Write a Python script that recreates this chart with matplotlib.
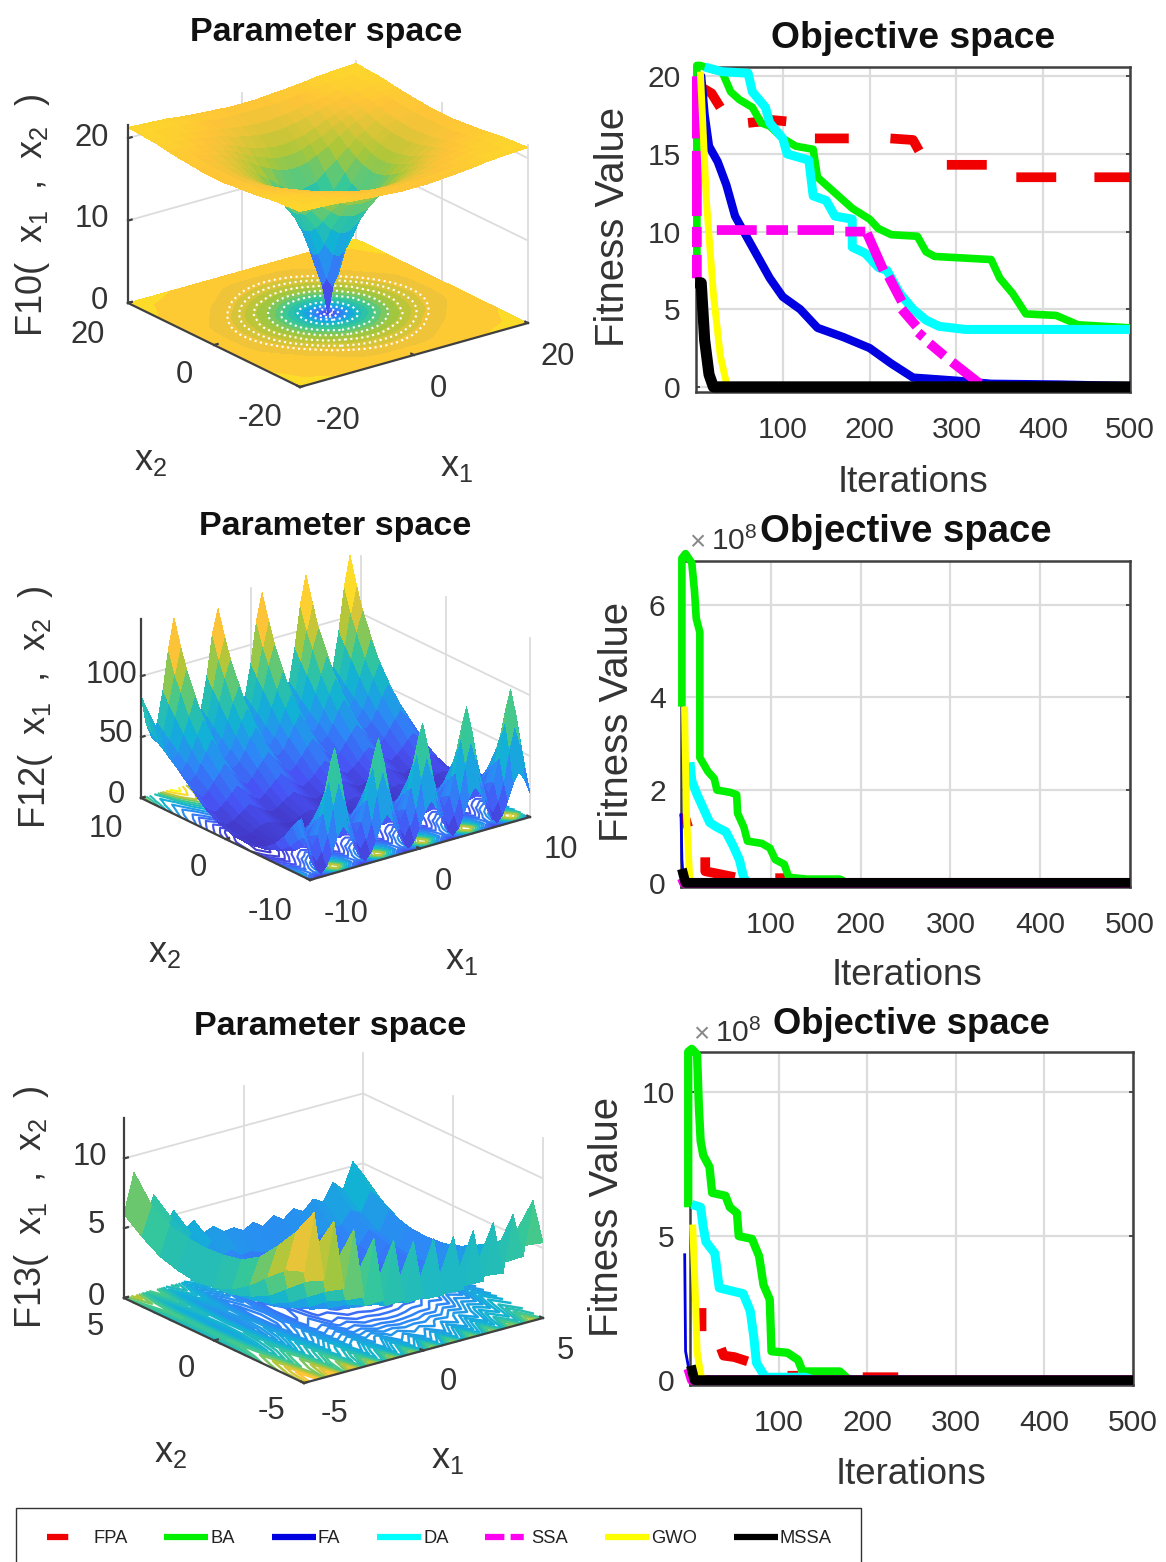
import numpy as np
import matplotlib
matplotlib.use("Agg")
import matplotlib.pyplot as plt
from matplotlib.colors import LinearSegmentedColormap
from matplotlib.lines import Line2D
from matplotlib.patches import Rectangle
from mpl_toolkits.mplot3d import proj3d

W, H = 1166, 1562
plt.rcParams['font.family'] = ['Liberation Sans', 'DejaVu Sans']
plt.rcParams['mathtext.fontset'] = 'custom'
plt.rcParams['mathtext.rm'] = 'Liberation Sans'
plt.rcParams['mathtext.it'] = 'Liberation Sans'
plt.rcParams['mathtext.bf'] = 'Liberation Sans:bold'
plt.rcParams['mathtext.default'] = 'regular'

# ---------- values ----------
LEGEND_NAMES = ['FPA', 'BA', 'FA', 'DA', 'SSA', 'GWO', 'MSSA']
ITER_TICKS = [100, 200, 300, 400, 500]

# F10 surface: one quadrant of the (symmetric) surface
F10_NODES = [0, 1, 2.5, 4, 6, 8, 9.5, 11, 13, 15, 17.5, 20]
F10_QUADRANT = [
    [0, 3.6, 7.6, 10.8, 13.4, 15.4, 16.6, 17.5, 18.6, 19.3, 20.1, 20.3],
    [3.6, 4.7, 8, 11, 13.5, 15.5, 16.6, 17.5, 18.6, 19.3, 20.1, 20.3],
    [7.6, 8, 9.6, 11.8, 13.8, 15.7, 16.8, 17.7, 18.7, 19.4, 20.1, 20.3],
    [10.8, 11, 11.8, 13, 14.7, 16.2, 17.2, 17.9, 18.9, 19.5, 20.1, 20.4],
    [13.4, 13.5, 13.8, 14.7, 15.8, 16.9, 17.7, 18.4, 19.2, 19.7, 20.2, 20.5],
    [15.4, 15.5, 15.7, 16.2, 16.9, 17.8, 18.4, 19, 19.6, 20, 20.4, 20.6],
    [16.6, 16.6, 16.8, 17.2, 17.7, 18.4, 19, 19.4, 19.9, 20.2, 20.5, 20.7],
    [17.5, 17.5, 17.7, 17.9, 18.4, 19, 19.4, 19.7, 20.1, 20.3, 20.6, 20.8],
    [18.6, 18.6, 18.7, 18.9, 19.2, 19.6, 19.9, 20.1, 20.4, 20.6, 20.8, 21],
    [19.3, 19.3, 19.4, 19.5, 19.7, 20, 20.2, 20.3, 20.6, 20.7, 20.9, 21.1],
    [20.1, 20.1, 20.1, 20.1, 20.2, 20.4, 20.5, 20.6, 20.8, 20.9, 21, 21.2],
    [20.3, 20.3, 20.3, 20.4, 20.5, 20.6, 20.7, 20.8, 21, 21.1, 21.2, 21.3],
]

# F12 surface: for each x2 row, the heights read at ridge top, two shoulders, flank and valley;
# each x1 column says which of those five readings it sits on and a small left-to-right gain.
F12_X2 = [-10, -9.5, -9, -8.5, -8, -7, -6, -5, -4, -3, -1, 1, 2.5, 4, 5.5, 6.5, 7.5, 8.5, 9.25, 10]
F12_PROFILE = [
    [37, 30, 18, 8, 3], [72, 55, 32, 18, 10], [97, 75, 48, 30, 22], [82, 62, 43, 29, 21], [60, 50, 38, 26, 20],
    [38, 32, 26, 17, 12], [24, 20, 17, 11, 8], [16, 14, 11, 7, 5], [10, 9, 7, 4, 3], [7, 6, 5, 3, 2],
    [9, 8, 6, 4, 3], [17, 14, 11, 8, 6], [27, 23, 18, 14, 11], [40, 34, 28, 22, 18], [55, 47, 38, 30, 26],
    [68, 58, 47, 37, 31], [83, 70, 57, 43, 36], [102, 87, 68, 50, 42], [120, 100, 76, 55, 46], [140, 118, 85, 60, 48],
]
F12_X1 = [-10, -9.5, -9, -8.5, -8, -7.5, -7, -6.5, -6, -5.5, -5, -4.5, -4, -3.5, -3, -2.5, -2, -1.5, -1, -0.5, 0,
          0.5, 1, 1.5, 2, 2.5, 3, 3.5, 4, 4.5, 5, 5.5, 6, 6.5, 7, 7.5, 8, 8.5, 9, 9.5, 10]
F12_SLOT = [2, 3, 4, 3, 2, 1, 0, 1, 2, 3, 4, 3, 2, 1, 0, 1, 2, 3, 4, 3, 2,
            1, 0, 1, 2, 3, 4, 3, 2, 1, 0, 1, 2, 3, 4, 3, 2, 1, 0, 1, 2]
F12_GAIN = [.98, .98, .98, .98, .98, .98, 1, 1, 1, 1, 1, 1, 1, 1, .98, .98, 1, 1, 1, 1, 1,
            1, 1, 1, 1, 1.02, 1.02, 1.02, 1.03, 1.03, 1.03, 1.04, 1.05, 1.05, 1.05, 1.06, 1.07, 1.07, 1.07, 1.08, 1.1]

# F13 surface: rows follow F13_X2, columns follow F13_X1
F13_X1 = [-5, -4.58, -4.17, -3.75, -3.33, -2.92, -2.5, -2.08, -1.67, -1.25, -0.83, -0.42, 0,
          0.42, 0.83, 1.25, 1.67, 2.08, 2.5, 2.92, 3.33, 3.75, 4.17, 4.58, 5]
F13_X2 = [-5, -4, -3, -2, -1, 0, 1, 2, 3, 4, 5]
F13_Z = [
    [8, 12, 7, 11, 6, 10, 5, 9, 4.4, 8.5, 4, 8, 3.8, 7.8, 3.6, 7.6, 3.6, 7.6, 3.8, 7.8, 4, 8, 4.8, 8.6, 5.4],
    [7.5, 10, 6.3, 8.5, 5.2, 7, 4.2, 5.6, 3.4, 4.6, 3, 4, 2.8, 3.4, 2.7, 3.3, 2.7, 3.5, 2.9, 3.9, 3.2, 4.6, 3.8, 5.6, 4.6],
    [6.4, 8.4, 5.2, 6.8, 4.2, 5.4, 3.5, 4.2, 2.9, 3.3, 2.5, 2.8, 2.3, 2.4, 2.2, 2.3, 2.2, 2.5, 2.4, 2.9, 2.7, 3.5, 3.2, 4.4, 3.8],
    [5.2, 7, 4.1, 5.5, 3.2, 4.2, 2.5, 3.1, 2, 2.3, 1.6, 1.7, 1.4, 1.4, 1.3, 1.3, 1.4, 1.5, 1.5, 1.9, 1.8, 2.6, 2.4, 3.6, 2.9],
    [4.3, 6.2, 3.4, 4.9, 2.5, 3.4, 1.8, 2.4, 1.3, 1.5, .9, 1, .7, .7, .6, .6, .6, .8, .8, 1.2, 1.1, 1.9, 1.6, 2.9, 2.2],
    [3.8, 5.9, 2.9, 4.5, 2.1, 3, 1.3, 1.9, .8, 1.1, .5, .5, .2, .2, .1, .1, .2, .3, .4, .8, .7, 1.6, 1.2, 2.5, 1.8],
    [3.6, 5.8, 2.7, 4.4, 1.9, 2.9, 1.2, 1.8, .7, .9, .3, .4, .1, .1, 0, 0, 0, .2, .2, .7, .5, 1.4, 1, 2.4, 1.6],
    [3.8, 5.9, 2.9, 4.5, 2.1, 3, 1.4, 2, .9, 1.1, .5, .5, .3, .2, .2, .2, .2, .4, .4, .8, .7, 1.6, 1.2, 2.5, 1.8],
    [4.2, 6.2, 3.3, 4.9, 2.5, 3.5, 1.8, 2.4, 1.3, 1.5, .9, 1, .7, .7, .6, .6, .7, .8, .8, 1.3, 1.1, 2, 1.6, 3, 2.2],
    [5, 7, 4, 5.7, 3.2, 4.2, 2.6, 3.2, 2, 2.3, 1.7, 1.8, 1.5, 1.5, 1.4, 1.4, 1.4, 1.6, 1.6, 2, 1.9, 2.8, 2.4, 3.8, 3],
    [6, 8.8, 5.1, 6.8, 4.3, 5.3, 3.6, 4.2, 3.1, 3.4, 2.8, 2.9, 2.5, 2.9, 2.4, 3, 2.5, 3.1, 2.7, 3.4, 3, 4.2, 3.5, 5.3, 4.2],
]

# Convergence curves, F10 (FPA and SSA: the visible dashes, with gaps as NaN)
nan = np.nan
F10_FPA_X = [9, 18, 28, nan, 60, 77, nan, 85, 104, nan, 137, 176, nan, 224, 250, 257, nan, 289, 335, nan, 369, 415, nan, 459, 500]
F10_FPA_Y = [19.2, 18.9, 18, nan, 17, 17.1, nan, 17.2, 17.1, nan, 16, 16, nan, 16, 15.9, 15.2, nan, 14.3, 14.3, nan, 13.5, 13.5, nan, 13.5, 13.5]
F10_BA_X = [1, 1, 5, 15, 30, 40, 50, 65, 75, 85, 100, 115, 135, 140, 160, 180, 200, 210, 225, 255, 265, 275, 340, 350, 365, 380, 415, 440, 500]
F10_BA_Y = [7, 20.7, 20.7, 20.5, 20.3, 19, 18.5, 18, 17, 16.8, 16, 15.5, 15.3, 13.5, 12.5, 11.5, 10.8, 10.2, 9.8, 9.7, 8.7, 8.4, 8.2, 7, 6, 4.7, 4.6, 4, 3.8]
F10_FA_X = [1, 6, 10, 15, 25, 35, 45, 55, 65, 75, 85, 100, 120, 140, 170, 200, 225, 250, 300, 340, 420, 500]
F10_FA_Y = [20, 20, 17.5, 15.5, 14.5, 13, 11, 10, 9, 8, 7, 5.8, 5, 3.8, 3.2, 2.5, 1.5, .6, .4, .2, .15, .05]
F10_DA_X = [10, 30, 60, 65, 80, 85, 100, 105, 130, 135, 150, 160, 180, 180, 195, 210, 220, 235, 250, 265, 280, 310, 500]
F10_DA_Y = [20.6, 20.3, 20.2, 19, 18, 17, 16, 15, 14.6, 12.3, 12, 11, 10.8, 9, 8.6, 7.7, 7.5, 6, 5, 4.3, 3.9, 3.7, 3.7]
F10_SSA_X = [1, 1, nan, 1, 1, nan, 1, 1, nan, 1, 1, nan, 24, 70, nan, 81, 106, nan, 117, 159, nan, 172, 195, nan,
             197, 216, nan, 222, 237, nan, 237, 254, nan, 256, 262, nan, 269, 286, nan, 295, 327]
F10_SSA_Y = [20, 16, nan, 15.2, 11, nan, 10.3, 9, nan, 8.5, 7, nan, 10.1, 10.1, nan, 10.1, 10.1, nan, 10.1, 10.1, nan, 10, 10, nan,
             9.9, 7.5, nan, 7.1, 5.5, nan, 5, 3.9, nan, 3.5, 3.2, nan, 2.8, 2, nan, 1.6, .2]
F10_GWO_X = [5, 12, 20, 28, 36]
F10_GWO_Y = [20.3, 12, 6, 2, 0]
F10_MSSA_X = [-1, 6, 10, 15, 20, 500]
F10_MSSA_Y = [6.7, 6.7, 3, .8, 0, 0]

# Convergence curves, F12 (units of 1e8)
F12_FPA_X = [3, 8, nan, 27, 27, 40, 60, nan, 105, 118]
F12_FPA_Y = [1.5, 1.2, nan, .55, .25, .2, .12, nan, .1, .1]
F12_BA_X = [1, 1, 5, 12, 15, 17, 21, 21, 30, 37, 40, 55, 62, 63, 70, 74, 90, 99, 105, 115, 120, 140, 177, 185]
F12_BA_Y = [3.8, 7, 7.1, 6.9, 6.3, 5.7, 5.4, 2.7, 2.4, 2.25, 2, 1.95, 1.9, 1.5, 1.2, .9, .85, .75, .5, .4, .12, .08, .08, 0]
F12_FA_X = [0, 1, 3]
F12_FA_Y = [1.5, .5, 0]
F12_DA_X = [10, 12, 18, 25, 32, 40, 50, 58, 65, 70, 75]
F12_DA_Y = [2.6, 2.2, 1.9, 1.6, 1.3, 1.2, 1.1, .8, .5, .1, 0]
F12_SSA_X = [1, 3, 500]
F12_SSA_Y = [.1, 0, 0]
F12_GWO_X = [4, 6, 10]
F12_GWO_Y = [3.8, 1.5, 0]
F12_MSSA_X = [1, 5, 500]
F12_MSSA_Y = [.3, 0, 0]

# Convergence curves, F13 (units of 1e8)
F13_FPA_X = [13, 13, nan, 35, 38, 50, 65, nan, 110, 122, nan, 195, 235]
F13_FPA_Y = [2.5, 1.7, nan, 1.1, .85, .8, .65, nan, .15, .15, nan, .1, .1]
F13_BA_X = [-2, -2, 2, 8, 10, 12, 15, 22, 25, 40, 45, 53, 55, 70, 78, 83, 90, 92, 110, 122, 127, 169, 178]
F13_BA_Y = [6, 11.4, 11.5, 11.3, 9.5, 8.3, 7.8, 7.4, 6.5, 6.4, 6, 5.8, 5, 4.9, 4.3, 3.3, 2.8, 1, .95, .7, .3, .3, .05]
F13_FA_X = [-6, -5, 1, nan, 20, 25]
F13_FA_Y = [4.4, 1, 0, nan, .15, 0]
F13_DA_X = [2, 12, 15, 18, 28, 33, 60, 68, 72, 75, 85, 130, 140]
F13_DA_Y = [6.1, 6, 5.3, 4.8, 4.4, 3.2, 3, 2.4, 1.5, .6, .1, .1, 0]
F13_SSA_X = [-2, 2, 500]
F13_SSA_Y = [.4, 0, 0]
F13_GWO_X = [3, 6, 8, 12, 15]
F13_GWO_Y = [5.4, 3, 1, .2, 0]
F13_MSSA_X = [1, 5, 500]
F13_MSSA_Y = [.5, 0, 0]

# ---------- styles and layout ----------
PARULA = LinearSegmentedColormap.from_list('parula', [
    (0.2422, 0.1504, 0.6603), (0.2810, 0.3228, 0.9579), (0.1786, 0.5289, 0.9682),
    (0.0689, 0.6948, 0.8394), (0.2161, 0.7843, 0.5923), (0.6720, 0.7793, 0.2227),
    (0.9970, 0.7659, 0.2199), (0.9769, 0.9839, 0.0805)])
TXT = '#333333'
GRID = '#dcdcdc'
STYLES = {
    'FPA': dict(color='#f00000', lw=7, ls='-'),
    'BA': dict(color='#00f000', lw=5.5, ls='-'),
    'FA': dict(color='#0000e0', lw=6, ls='-'),
    'DA': dict(color='#00ffff', lw=6.5, ls='-'),
    'SSA': dict(color='#ff00f0', lw=7, ls='-'),
    'GWO': dict(color='#ffff00', lw=5, ls='-'),
    'MSSA': dict(color='#000000', lw=7, ls='-'),
}

fig = plt.figure(figsize=(W / 100, H / 100), dpi=100, facecolor='white')
fx = lambda p: p / W
fy = lambda p: 1 - p / H


def project(ax, x, y, z):
    vx, vy, _ = proj3d.proj_transform(x, y, z, ax.get_proj())
    dx, dy = ax.transData.transform((vx, vy))
    return dx, H - dy


def make_3d(xlim, ylim, ztop, left, front, right):
    Xx, Xy = right[0] - front[0], front[1] - right[1]
    Yx, Yy = front[0] - left[0], front[1] - left[1]
    r1, r2 = Xy / Xx, Yy / Yx
    S, t = np.sqrt(r1 * r2), np.sqrt(r1 / r2)
    elev, a = np.arcsin(S), np.arctan(t)
    ax = fig.add_axes([0, 0, .5, .5], projection='3d', computed_zorder=False, proj_type='ortho')
    ax.set_xlim(*xlim, view_margin=0)
    ax.set_ylim(*ylim, view_margin=0)
    ax.set_zlim(0, ztop[0], view_margin=0)
    ax.view_init(elev=np.degrees(elev), azim=-90 - np.degrees(a))
    ax.set_box_aspect((Xx / np.cos(a), Yx / np.sin(a), ztop[1] / np.cos(elev)))
    ax.set_axis_off()
    ax.patch.set_visible(False)
    side = 500.0
    for _ in range(3):
        ax.set_position([0, 0, side / W, side / H])
        ax.apply_aspect()
        lp = project(ax, xlim[0], ylim[1], 0)
        rp = project(ax, xlim[1], ylim[0], 0)
        side *= (right[0] - left[0]) / (rp[0] - lp[0])
    ax.set_position([0, 0, side / W, side / H])
    ax.apply_aspect()
    lp = project(ax, xlim[0], ylim[1], 0)
    ax.set_position([(left[0] - lp[0]) / W, (lp[1] - left[1]) / H, side / W, side / H])
    ax.apply_aspect()
    return ax


def frame_3d(ax, xlim, ylim, ztop, zticks):
    x0, x1 = xlim
    y0, y1 = ylim
    mx, my = (x0 + x1) / 2, (y0 + y1) / 2
    g = dict(color=GRID, lw=1.3, zorder=0)
    for xv in (mx, x1):
        ax.plot([xv, xv], [y1, y1], [0, ztop], **g)
    for yv in (my, y0):
        ax.plot([x1, x1], [yv, yv], [0, ztop], **g)
    for zv in zticks[1:]:
        ax.plot([x0, x1], [y1, y1], [zv, zv], **g)
        ax.plot([x1, x1], [y1, y0], [zv, zv], **g)
    k = dict(color='#404040', lw=1.6, zorder=8)
    ax.plot([x0, x0], [y1, y1], [0, ztop], **k)
    ax.plot([x0, x0], [y1, y0], [0, 0], **k)
    ax.plot([x0, x1], [y0, y0], [0, 0], **k)
    stub = (x1 - x0) * .016
    for zv in zticks:
        ax.plot([x0, x0 + stub], [y1, y1], [zv, zv], **k)
    for xv in (x0, mx, x1):
        ax.plot([xv, xv], [y0, y0 + stub], [0, 0], **k)
    for yv in (y0, my, y1):
        ax.plot([x0, x0 + stub], [yv, yv], [0, 0], **k)


def surface(ax, X, Y, Z, vmin, vmax):
    ax.plot_surface(X, Y, Z, rstride=1, cstride=1, cmap=PARULA, vmin=vmin, vmax=vmax, shade=False,
                    linewidth=0.3, edgecolor='none', antialiased=False, zorder=5)


def label(x, y, s, size=22.3, **kw):
    fig.text(fx(x), fy(y), s, fontsize=size, color=kw.pop('color', TXT), ha='center', va='center', **kw)


def panel_text(title, tpos, ylab, ypos, ticks, x2pos, x1pos):
    label(*tpos, title, size=24.5, fontweight='bold', color='#111111')
    label(*ypos, ylab, size=26, rotation=90)
    for (tx, ty, s) in ticks:
        label(tx, ty, s)
    label(*x2pos, 'x$_{2}$', size=26)
    label(*x1pos, 'x$_{1}$', size=26)


def curves_panel(box, ylim, xlim, yticks, curves, title_size, title_pad, xlab_xy, ylab_xy, scale_text=None, ylabels=None):
    l, t, r, b = box
    ax = fig.add_axes([fx(l), fy(b), (r - l) / W, (b - t) / H])
    for name, xs, ys, style in curves:
        st = dict(STYLES[name])
        if style:
            st.update(style)
        ax.plot(xs, ys, color=st['color'], lw=st['lw'], ls=st['ls'], clip_on=False,
                solid_joinstyle='round', solid_capstyle='butt', dash_capstyle='butt')
    ax.set_xlim(*xlim)
    ax.set_ylim(*ylim)
    ax.set_xticks(ITER_TICKS)
    ax.set_yticks(yticks)
    ax.set_yticklabels(ylabels if ylabels else [str(v) for v in yticks])
    ax.grid(True, color=GRID, lw=1.6)
    ax.set_axisbelow(True)
    ax.tick_params(axis='x', labelsize=21.6, labelcolor=TXT, pad=17, length=3, width=1.2, direction='in', color='#333333', top=False)
    ax.tick_params(axis='y', labelsize=21.6, labelcolor=TXT, pad=11, length=3, width=1.2, direction='in', color='#333333', right=True)
    for s in ax.spines.values():
        s.set_color('#404040')
        s.set_linewidth(1.8)
        s.set_zorder(1)
    ax.set_title('Objective space', fontsize=title_size, fontweight='bold', pad=title_pad, color='#111111')
    ax.set_xlabel('Iterations', fontsize=26.5, color=TXT, va='center')
    ax.xaxis.set_label_coords((xlab_xy[0] - l) / (r - l), (b - xlab_xy[1]) / (b - t))
    ax.set_ylabel('Fitness Value', fontsize=28.9, color=TXT, va='center')
    ax.yaxis.set_label_coords((ylab_xy[0] - l) / (r - l), (b - ylab_xy[1]) / (b - t))
    if scale_text:
        fig.text(fx(scale_text[0]), fy(scale_text[1]), '×', fontsize=20, color='#888888', ha='center', va='center')
        fig.text(fx(scale_text[0] + 14), fy(scale_text[1] - 2), '10$^{8}$', fontsize=21.6, color=TXT, ha='left', va='center')
    return ax


# ---------- F10 surface ----------
nodes = np.array(F10_NODES, float)
full_nodes = np.concatenate([-nodes[:0:-1], nodes])
q = np.array(F10_QUADRANT, float)
top = np.hstack([q[:, :0:-1], q])
Z10 = np.vstack([top[:0:-1], top])
X10, Y10 = np.meshgrid(full_nodes, full_nodes)
lim = (-20, 20)
ax = make_3d(lim, lim, (21.6, 178), (128, 303), (300, 387), (528, 323))
frame_3d(ax, lim, lim, 21.6, [0, 10, 20])
ax.contourf(X10, Y10, Z10, levels=24, cmap=PARULA, vmin=0, vmax=23.5, zdir='z', offset=0, zorder=1)
ax.contour(X10, Y10, Z10, levels=[2.5, 5, 8, 11, 14, 15.8, 17.2, 18.4, 19.2], colors='white', linewidths=1.5,
           linestyles=':', zdir='z', offset=0, zorder=2)
surface(ax, X10, Y10, Z10, 0, 23.5)
panel_text('Parameter space', (326, 33), 'F10(  x$_{1}$  ,  x$_{2}$  )', (33, 215),
           [(92, 138, '20'), (92, 219, '10'), (99, 301, '0'), (88, 335, '20'), (184, 375, '0'), (260, 418, '-20'),
            (338, 421, '-20'), (438, 389, '0'), (558, 357, '20')], (151, 461), (457, 466))

# ---------- F12 surface ----------
X12, Y12 = np.meshgrid(F12_X1, F12_X2)
Z12 = np.array(F12_PROFILE, float)[:, F12_SLOT] * np.array(F12_GAIN)
lim = (-10, 10)
ax = make_3d(lim, lim, (147, 179), (141, 798), (310, 880), (530, 817))
frame_3d(ax, lim, lim, 147, [0, 50, 100])
ax.contour(X12, Y12, Z12, levels=[3, 5, 7, 9, 12, 16, 20, 24, 30, 36, 44, 52, 60, 70, 80, 100, 120], cmap=PARULA, vmin=-5, vmax=110,
           linewidths=1.5, zdir='z', offset=0, zorder=1)
surface(ax, X12, Y12, Z12, -5, 140)
panel_text('Parameter space', (335, 527), 'F12(  x$_{1}$  ,  x$_{2}$  )', (36, 707),
           [(112, 675, '100'), (116, 734, '50'), (116, 795, '0'), (106, 829, '10'), (198, 868, '0'), (270, 912, '-10'),
            (346, 914, '-10'), (443, 882, '0'), (561, 850, '10')], (165, 953), (462, 960))

# ---------- F13 surface ----------
X13, Y13 = np.meshgrid(F13_X1, F13_X2)
Z13 = np.array(F13_Z, float)
lim = (-5, 5)
ax = make_3d(lim, lim, (12.9, 180), (124, 1298), (304, 1383), (543, 1318))
frame_3d(ax, lim, lim, 12.9, [0, 5, 10])
ax.contour(X13, Y13, Z13, levels=[.3, .6, .9, 1.2, 1.5, 1.8, 2.1, 2.4, 2.7, 3, 3.3, 3.6, 4, 4.5, 5, 5.5, 6, 7, 8, 9, 10],
           cmap=PARULA, vmin=-2.5, vmax=12, linewidths=1.8, zdir='z', offset=0, zorder=1)
surface(ax, X13, Y13, Z13, -2.5, 12)
panel_text('Parameter space', (330, 1027), 'F13(  x$_{1}$  ,  x$_{2}$  )', (32, 1207),
           [(90, 1157, '10'), (96, 1225, '5'), (96, 1297, '0'), (95, 1327, '5'), (186, 1369, '0'), (271, 1411, '-5'),
            (334, 1414, '-5'), (448, 1382, '0'), (565, 1351, '5')], (171, 1452), (448, 1458))

# ---------- convergence panels ----------
curves_panel((696, 67, 1130, 392), (-0.33, 20.6), (0, 500), [0, 5, 10, 15, 20],
             [('FPA', F10_FPA_X, F10_FPA_Y, None), ('BA', F10_BA_X, F10_BA_Y, None), ('FA', F10_FA_X, F10_FA_Y, None),
              ('DA', F10_DA_X, F10_DA_Y, None), ('SSA', F10_SSA_X, F10_SSA_Y, None), ('GWO', F10_GWO_X, F10_GWO_Y, None),
              ('MSSA', F10_MSSA_X, F10_MSSA_Y, dict(lw=8))],
             26.8, 13.5, (913, 482), (613, 227))

e8 = lambda v: np.array(v, float) * 1e8
ax = curves_panel((681, 561, 1130, 887), (-0.09e8, 6.94e8), (0, 500), [0, 2e8, 4e8, 6e8],
                  [('FPA', F12_FPA_X, e8(F12_FPA_Y), None), ('BA', F12_BA_X, e8(F12_BA_Y), None),
                   ('FA', F12_FA_X, e8(F12_FA_Y), dict(lw=2)), ('DA', F12_DA_X, e8(F12_DA_Y), None),
                   ('SSA', F12_SSA_X, e8(F12_SSA_Y), None), ('GWO', F12_GWO_X, e8(F12_GWO_Y), None),
                   ('MSSA', F12_MSSA_X, e8(F12_MSSA_Y), None)],
                  27.5, 13.5, (907, 976), (617, 722), scale_text=(697, 543), ylabels=['0', '2', '4', '6'])

ax = curves_panel((690, 1052, 1133, 1385), (-0.17e8, 11.39e8), (0, 500), [0, 5e8, 10e8],
                  [('FPA', F13_FPA_X, e8(F13_FPA_Y), None), ('BA', F13_BA_X, e8(F13_BA_Y), dict(lw=6)),
                   ('FA', F13_FA_X, e8(F13_FA_Y), dict(lw=2)), ('DA', F13_DA_X, e8(F13_DA_Y), None),
                   ('SSA', F13_SSA_X, e8(F13_SSA_Y), None), ('GWO', F13_GWO_X, e8(F13_GWO_Y), None),
                   ('MSSA', F13_MSSA_X, e8(F13_MSSA_Y), None)],
                  26.2, 13, (911, 1474), (607, 1217), scale_text=(701, 1035), ylabels=['0', '5', '10'])

# ---------- legend ----------
fig.add_artist(Rectangle((fx(15.5), fy(1600)), 845 / W, (1600 - 1508) / H, transform=fig.transFigure,
                         fill=False, edgecolor='#333333', lw=1))
key_ls = {'FPA': (0, (3.4, 30)), 'SSA': (0, (3.1, 1, 2.1, 30))}
handles = []
for n in LEGEND_NAMES:
    handles.append(Line2D([0], [0], color=STYLES[n]['color'], lw=4.5, ls=key_ls.get(n, '-'),
                          solid_capstyle='butt', dash_capstyle='butt'))
fig.legend(handles, LEGEND_NAMES, ncols=7, loc='upper left', bbox_to_anchor=(fx(47), fy(1530)), frameon=False,
           fontsize=13.2, handlelength=2.4, handletextpad=0.12, columnspacing=2.0, borderpad=0, borderaxespad=0,
           labelcolor='#222222')

fig.savefig('out.png', dpi=100, facecolor='white')
